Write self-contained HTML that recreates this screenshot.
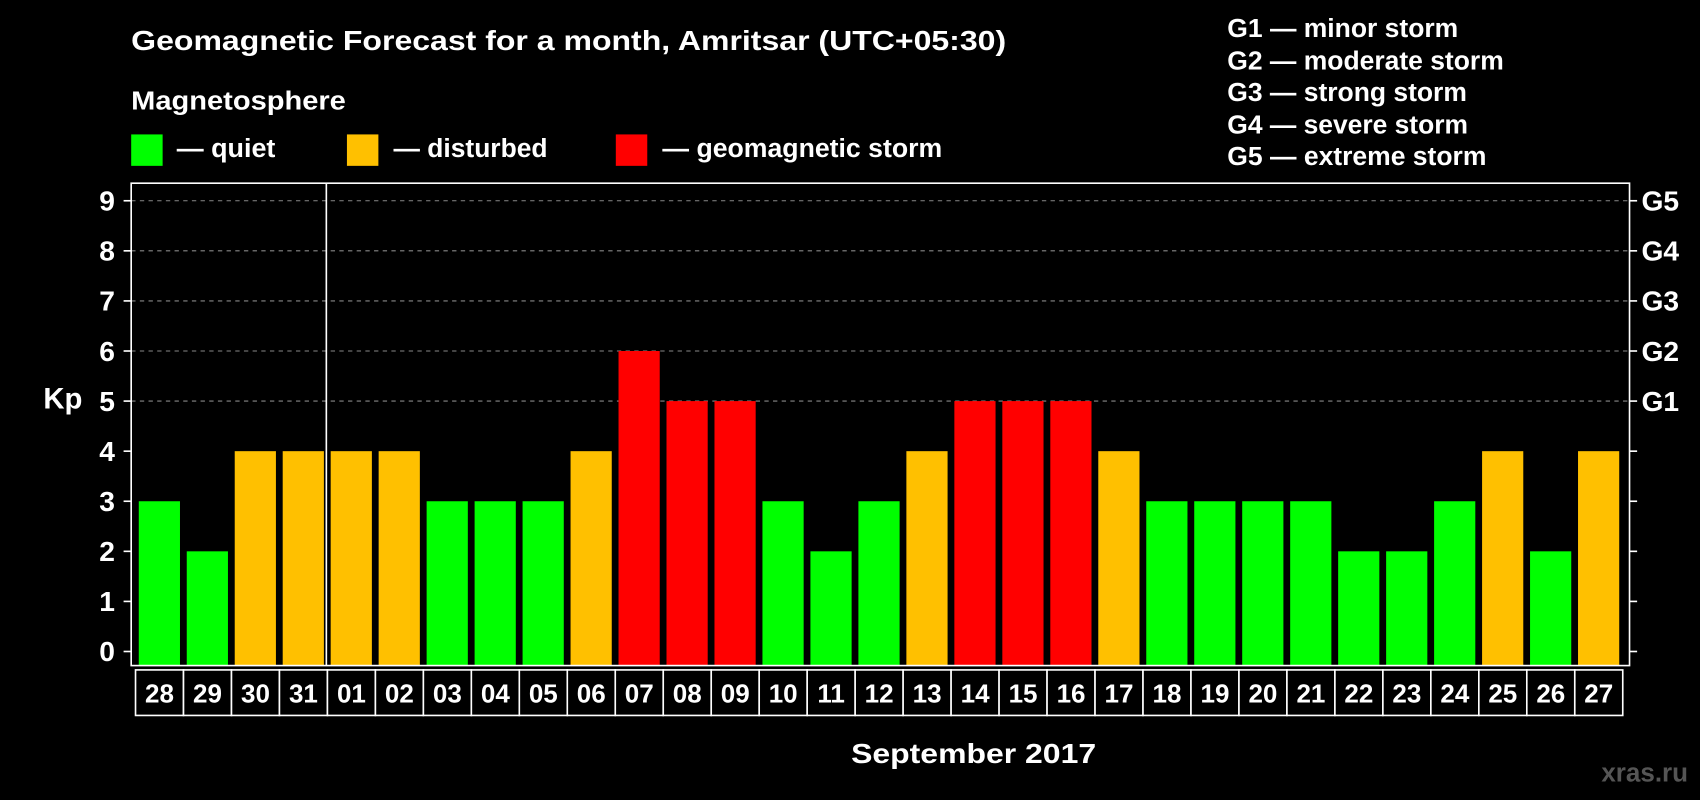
<!DOCTYPE html>
<html><head><meta charset="utf-8"><style>
html,body{margin:0;padding:0;background:#000;}
svg{display:block;font-family:"Liberation Sans",Arial,sans-serif;font-weight:bold;}
</style></head><body>
<svg id="chart" width="1700" height="800" viewBox="0 0 1568 738" preserveAspectRatio="none" xmlns="http://www.w3.org/2000/svg">
<rect width="1568" height="738" fill="#000"/>
<text x="121" y="46" fill="#fff" font-size="26" textLength="807" lengthAdjust="spacingAndGlyphs">Geomagnetic Forecast for a month, Amritsar (UTC+05:30)</text>
<text x="121" y="101" fill="#fff" font-size="24" textLength="198" lengthAdjust="spacingAndGlyphs">Magnetosphere</text>
<g><rect x="121" y="124" width="29" height="29" fill="#00ff00"/><text x="163" y="145" fill="#fff" font-size="24" textLength="91" lengthAdjust="spacingAndGlyphs">— quiet</text></g>
<g><rect x="320" y="124" width="29" height="29" fill="#ffc000"/><text x="363" y="145" fill="#fff" font-size="24" textLength="142" lengthAdjust="spacingAndGlyphs">— disturbed</text></g>
<g><rect x="568" y="124" width="29" height="29" fill="#ff0000"/><text x="611" y="145" fill="#fff" font-size="24" textLength="258" lengthAdjust="spacingAndGlyphs">— geomagnetic storm</text></g>
<g fill="#fff" font-size="24">
<text x="1132" y="34" textLength="213" lengthAdjust="spacingAndGlyphs">G1 — minor storm</text>
<text x="1132" y="64" textLength="255" lengthAdjust="spacingAndGlyphs">G2 — moderate storm</text>
<text x="1132" y="93" textLength="221" lengthAdjust="spacingAndGlyphs">G3 — strong storm</text>
<text x="1132" y="123" textLength="222" lengthAdjust="spacingAndGlyphs">G4 — severe storm</text>
<text x="1132" y="152" textLength="239" lengthAdjust="spacingAndGlyphs">G5 — extreme storm</text>
</g>
<g id="grid"></g>
<g id="bars"></g>
<rect x="121" y="169" width="1382" height="445" fill="none" stroke="#fff" stroke-width="1.5"/>
<line x1="301" y1="169" x2="301" y2="614" stroke="#fff" stroke-width="1.5"/>
<g id="axes"></g>
<g id="labels"></g>
<text x="58" y="377" fill="#fff" font-size="27" text-anchor="middle">Kp</text>
<text x="898" y="704" fill="#fff" font-size="26" text-anchor="middle" textLength="226" lengthAdjust="spacingAndGlyphs">September 2017</text>
<text x="1557" y="721" fill="#555" font-size="24" text-anchor="end">xras.ru</text>
</svg>
<script>
const days = ["28","29","30","31","01","02","03","04","05","06","07","08","09","10","11","12","13","14","15","16","17","18","19","20","21","22","23","24","25","26","27"];
const kpValues = [3,2,4,4,4,4,3,3,3,4,6,5,5,3,2,3,4,5,5,5,4,3,3,3,3,2,2,3,4,2,4];
const yTicks = [0,1,2,3,4,5,6,7,8,9];
const gLabels = ["G1","G2","G3","G4","G5"];
const gLevels = [5,6,7,8,9];

const NS = "http://www.w3.org/2000/svg";
const y = v => 601 - v * 46.2;
const xStart = 125, pitch = 44.25;
const x = i => xStart + i * pitch;
function mk(tag, attrs, parent){ const e=document.createElementNS(NS,tag); for(const k in attrs) e.setAttribute(k,attrs[k]); parent.appendChild(e); return e; }
const gGrid=document.getElementById('grid'), gBars=document.getElementById('bars'), gAxes=document.getElementById('axes'), gLab=document.getElementById('labels');

gLevels.forEach((lv,i)=>{
  const l = mk('line',{x1:121,x2:1503,y1:y(lv),y2:y(lv),stroke:'#888','stroke-dasharray':'4,4','stroke-width':1},gGrid);
  
  
  const t = mk('text',{x:1514,y:y(lv)+9,fill:'#fff','font-size':26},gAxes);
  t.textContent = gLabels[i];
  
  
});
yTicks.forEach(v=>{
  const l1 = mk('line',{x1:114,x2:121,y1:y(v),y2:y(v),stroke:'#fff','stroke-width':1.5},gAxes);
  
  
  const l2 = mk('line',{x1:1503,x2:1510,y1:y(v),y2:y(v),stroke:'#fff','stroke-width':1.5},gAxes);
  
  
  const t = mk('text',{x:106,y:y(v)+9,fill:'#fff','font-size':26,'text-anchor':'end'},gAxes);
  t.textContent = v;
  
  
});
days.forEach((d,i)=>{
  const v = kpValues[i];
  const col = v>=5 ? '#ff0000' : (v>=4 ? '#ffc000' : '#00ff00');
  const b = mk('rect',{x:x(i)+3,y:y(v),width:38,height:y(0)+13-y(v),fill:col},gBars);
  
  
  const c = mk('rect',{x:x(i),y:618,width:pitch,height:42,fill:'#000',stroke:'#fff','stroke-width':1.5},gLab);
  
  
  const t = mk('text',{x:x(i)+pitch/2,y:648,fill:'#fff','font-size':24,'text-anchor':'middle'},gLab);
  t.textContent = d;
  
  
});
</script>
</body></html>
